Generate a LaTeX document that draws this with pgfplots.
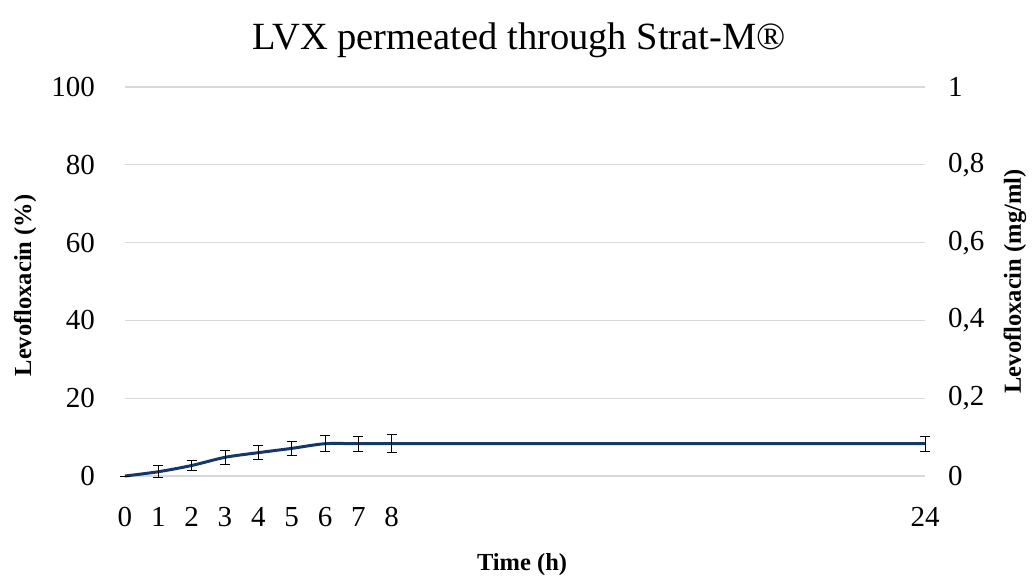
\documentclass[border=0pt]{standalone}
\usepackage{fontspec}
\setmainfont{Liberation Serif}
\usepackage{pgfplots}
\pgfplotsset{compat=1.18}
\definecolor{navy}{RGB}{22,56,104}
\definecolor{gridgray}{RGB}{217,217,217}
\newcommand{\tickfont}{\fontsize{29bp}{34bp}\selectfont}
\newcommand{\labfont}{\fontsize{24.5bp}{30bp}\selectfont\bfseries}
\begin{document}
\begin{tikzpicture}
\useasboundingbox (-125bp,-107bp) rectangle (911bp,476bp);
\begin{axis}[
  at={(0,0)}, anchor=south west,
  scale only axis, width=800bp, height=389bp,
  xmin=0, xmax=24, ymin=0, ymax=100,
  axis line style={draw=none},
  tick style={draw=none},
  xtick={0,1,2,3,4,5,6,7,8,24},
  ytick={0,20,40,60,80,100},
  ymajorgrids, grid style={gridgray, line width=1.2bp},
  /pgf/number format/assume math mode=true,
  ticklabel style={font=\tickfont, inner sep=0pt},
  yticklabel style={anchor=east, xshift=-30bp},
  xticklabel style={anchor=north, yshift=-31bp},
  title={LVX permeated through Strat-M®},
  title style={font=\fontsize{38.5bp}{44bp}\selectfont, at={(axis description cs:0.5,1)}, anchor=center, yshift=41bp, xshift=-6bp, inner sep=0pt},
  xlabel={Time (h)},
  xlabel style={font=\labfont, at={(axis description cs:0.4963,0)}, anchor=center, yshift=-89bp, inner sep=0pt},
  ylabel={Levofloxacin (\%)},
  ylabel style={font=\labfont, at={(axis description cs:-0.125,0.49)}, anchor=center, inner sep=0pt},
  clip=false,
]
\addplot[navy, line width=3bp, smooth, tension=0.5,
  error bars/.cd, y dir=both, y explicit,
  error bar style={black, line width=0.9bp},
  error mark options={black, line width=0.9bp, rotate=90, mark size=5bp}]
  table[x=t, y=v, y error=e] {
  t v e
  0 0 0
  1 1.1 1.6
  2 2.7 1.4
  3 4.8 1.8
  4 6.0 1.75
  5 7.1 1.9
  6 8.3 2.0
  7 8.3 1.9
  8 8.3 2.3
  24 8.3 1.9
  };
\end{axis}
\begin{axis}[
  at={(0,0)}, anchor=south west,
  scale only axis, width=800bp, height=389bp,
  xmin=0, xmax=24, ymin=0, ymax=1,
  axis line style={draw=none},
  tick style={draw=none},
  xtick=\empty,
  ytick={0,0.2,0.4,0.6,0.8,1},
  axis y line*=right,
  /pgf/number format/assume math mode=true,
  /pgf/number format/use comma,
  yticklabel style={font=\tickfont, inner sep=0pt, anchor=west, xshift=23bp},
  ylabel={Levofloxacin (mg/ml)},
  ylabel style={font=\labfont, at={(axis description cs:1.1125,0.5)}, anchor=center, inner sep=0pt},
]
\addplot[draw=none] coordinates {(0,0)};
\end{axis}
\end{tikzpicture}
\end{document}
